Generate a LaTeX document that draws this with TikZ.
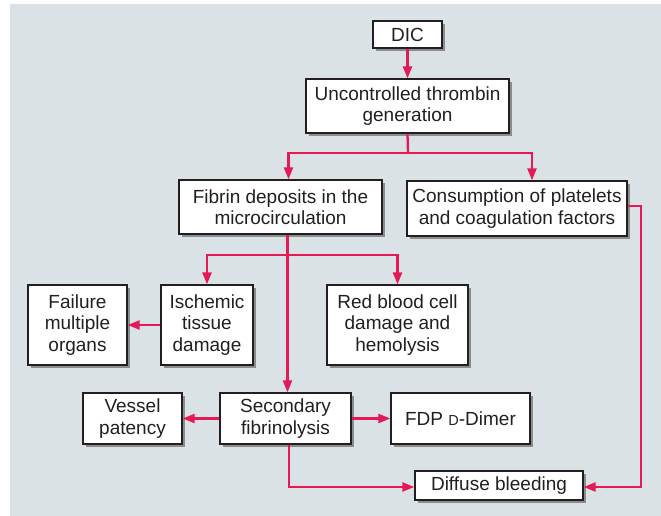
\documentclass[tikz,border=0pt]{standalone}
\usepackage{fontspec}
\setmainfont{Liberation Sans}
\usepackage{tikz}
\usetikzlibrary{arrows.meta,positioning,shadows}
\definecolor{DICRed}{HTML}{E31A55}
\definecolor{DICPanel}{HTML}{DAE2E6}
\definecolor{DICShade}{HTML}{8A8C8E}
\definecolor{DICText}{HTML}{231F20}
\begin{document}
\begin{tikzpicture}[
  x=1pt,y=-1pt,
  box/.style={draw=DICText,fill=white,line width=1.3pt,align=center,inner sep=2pt,
    text=DICText,font=\fontsize{19}{21.5}\selectfont,
    drop shadow={shadow xshift=3pt,shadow yshift=-3pt,fill=DICShade,opacity=1}},
  arr/.style={draw=DICRed,line width=2.3pt,-{Triangle[length=12pt,width=9pt]}},
  link/.style={draw=DICRed,line width=2.3pt},
]
\useasboundingbox (0,0) rectangle (661,516);
\fill[DICPanel] (10,4) rectangle (661,516);
% boxes
\node[box,minimum width=69pt,minimum height=27pt] (dic) at (407.5,34.5) {DIC};
\node[box,minimum width=203pt,minimum height=54pt] (thr) at (407.5,106) {Uncontrolled thrombin\\generation};
\node[box,minimum width=203pt,minimum height=54pt] (fib) at (280.5,207) {Fibrin deposits in the\\microcirculation};
\node[box,minimum width=220pt,minimum height=55pt] (cons) at (517,208.5) {Consumption of platelets\\and coagulation factors};
\node[box,minimum width=92pt,minimum height=80pt] (isch) at (207,325) {Ischemic\\tissue\\damage};
\node[box,minimum width=99pt,minimum height=80pt] (fail) at (77.5,325) {Failure\\multiple\\organs};
\node[box,minimum width=141pt,minimum height=80pt] (rbc) at (397.5,325) {Red blood cell\\damage and\\hemolysis};
\node[box,minimum width=131pt,minimum height=51pt] (sec) at (285.5,418.5) {Secondary\\fibrinolysis};
\node[box,minimum width=99pt,minimum height=51pt] (ves) at (132.5,418.5) {Vessel\\patency};
\node[box,minimum width=139pt,minimum height=51pt] (fdp) at (460.5,418.5) {FDP {\fontsize{14.5}{15}\selectfont D}-Dimer};
\node[box,minimum width=168pt,minimum height=29pt] (dif) at (499,485.5) {Diffuse bleeding};
% connectors
\coordinate (split1) at (408,153);
\coordinate (split2) at (287.5,255);
\draw[arr] (dic) -- (thr);
\draw[link] (thr.south) -- (split1);
\draw[arr] (split1) -| ([xshift=8pt]fib.north);
\draw[arr] (split1) -| ([xshift=15pt]cons.north);
\draw[arr] ([xshift=7pt]fib.south) -- ([xshift=7pt]fib.south |- sec.north);
\draw[arr] (split2) -| (isch.north);
\draw[arr] (split2) -| (rbc.north);
\draw[arr] (isch) -- (fail);
\draw[arr] (sec) -- (ves);
\draw[arr] (sec) -- (fdp);
\draw[arr] ([xshift=3.5pt]sec.south) |- ([yshift=-1.5pt]dif.west);
\draw[arr] ([yshift=2.5pt]cons.east) -- ++(13,0) |- ([yshift=-1.5pt]dif.east);
\end{tikzpicture}
\end{document}
